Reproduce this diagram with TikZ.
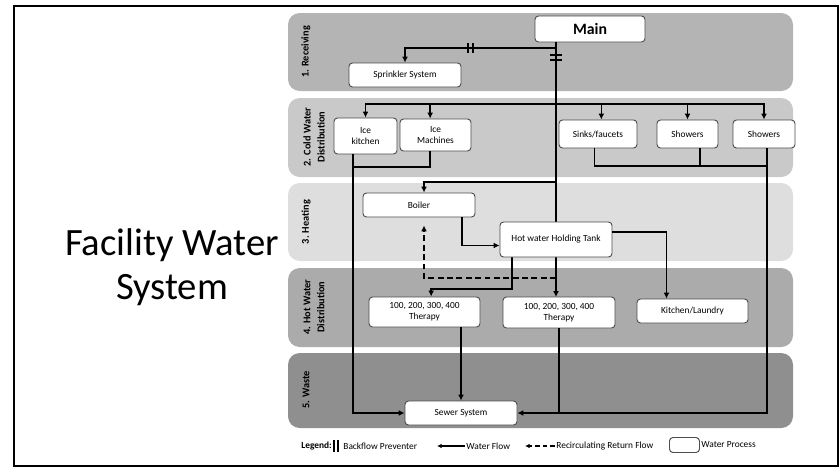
\documentclass[tikz,border=0pt]{standalone}
\usepackage{fontspec}
\setmainfont{Carlito}
\usetikzlibrary{arrows.meta, positioning, calc}

\definecolor{recvgray}{RGB}{180,180,180}
\definecolor{coldgray}{RGB}{201,201,201}
\definecolor{heatgray}{RGB}{222,222,222}
\definecolor{hotgray}{RGB}{171,171,171}
\definecolor{wastegray}{RGB}{143,143,143}

\begin{document}
\begin{tikzpicture}[
    x=0.03cm, y=-0.03cm,
    bandlabel/.style={rotate=90, font=\bfseries\fontsize{8.8}{12}\selectfont, align=center},
    proc/.style={rectangle, draw=black!70, rounded corners=3pt, fill=white,
      line width=0.8pt, align=center, font=\fontsize{8}{9.5}\selectfont, inner sep=1pt},
    pipe/.style={line width=1.4pt},
    flow/.style={line width=1.4pt, -{Latex[length=5pt,width=5pt]}},
    ret/.style={line width=1.4pt, dash pattern=on 5pt off 3pt, -{Latex[length=5pt,width=5pt]}},
    legtext/.style={font=\fontsize{8}{9.5}\selectfont, anchor=west, inner sep=1pt}
  ]
    \useasboundingbox (0,0) rectangle (839,468);
    \draw[line width=1.5pt] (14,6) rectangle (838,466);

    \fill[recvgray, rounded corners=10pt] (288,13) rectangle (793,91);
    \fill[coldgray, rounded corners=10pt] (288,98) rectangle (793,177);
    \fill[heatgray, rounded corners=10pt] (288,183) rectangle (793,261);
    \fill[hotgray, rounded corners=10pt] (288,268) rectangle (793,347);
    \fill[wastegray, rounded corners=10pt] (288,353) rectangle (793,428);

    \node[bandlabel] (lbRecv) at (306,52) {1. Receiving};
    \node[bandlabel] (lbCold) at (314,137) {2. Cold Water\\Distribution};
    \node[bandlabel] (lbHeat) at (306,222) {3. Heating};
    \node[bandlabel] (lbHot) at (314,307) {4. Hot Water\\Distribution};
    \node[bandlabel] (lbWaste) at (306,390) {5. Waste};

    \node[font=\fontsize{33}{38}\selectfont, align=center] (title) at (172,267) {Facility Water\\System};

    \coordinate (trunk) at (556,0);
    \coordinate (sprJ) at (556,48);
    \coordinate (coldJ) at (556,104);
    \coordinate (heatJ) at (556,182);
    \coordinate (retJ) at (556,278);
    \coordinate (coldOut) at (353,167);
    \coordinate (sinkOut) at (767,166);
    \coordinate (t1J) at (512,289);

    \node[proc, font=\bfseries\fontsize{13.5}{16}\selectfont, minimum width=3.3cm, minimum height=0.78cm] (main) at (590,29) {Main};
    \node[proc, minimum width=3.36cm, minimum height=0.72cm] (spr) at (405,75) {Sprinkler System};

    \draw[flow] (main.south -| trunk) -- (trunk |- 0,297);
    \draw[flow] (sprJ) -| (spr.north);
    \draw[line width=1.1pt] (468,43) -- (468,53) (473,43) -- (473,53);
    \draw[line width=1.1pt] (550,55) -- (562,55) (550,60) -- (562,60);

    \node[proc, minimum width=1.89cm, minimum height=1.08cm] (iceK) at (365.5,136) {Ice\\kitchen};
    \node[proc, minimum width=2.13cm, minimum height=0.96cm] (iceM) at (435.5,135) {Ice\\Machines};
    \node[proc, minimum width=2.34cm, minimum height=0.84cm] (sinks) at (598,134) {Sinks/faucets};
    \node[proc, minimum width=1.83cm, minimum height=0.84cm] (show1) at (687.5,134) {Showers};
    \node[proc, minimum width=1.86cm, minimum height=0.84cm] (show2) at (764,134) {Showers};

    \draw[flow] (coldJ) -| (iceK.north);
    \draw[flow] (coldJ) -| ([xshift=-0.16cm]iceM.north);
    \draw[flow] (coldJ) -| ([xshift=0.1cm]sinks.north);
    \draw[flow] (coldJ) -| (show1.north);
    \draw[flow] (coldJ) -| (show2.north);

    \node[proc, minimum width=3.36cm, minimum height=0.72cm] (boiler) at (419,205) {Boiler};
    \node[proc, minimum width=3.33cm, minimum height=0.9cm] (ther1) at (424.5,312) {100, 200, 300, 400\\Therapy};
    \node[proc, minimum width=3.36cm, minimum height=0.93cm] (ther2) at (559,312.5) {100, 200, 300, 400\\Therapy};
    \node[proc, minimum width=3.33cm, minimum height=0.72cm] (kitch) at (692.5,311) {Kitchen/Laundry};
    \node[proc, minimum width=3.36cm, minimum height=0.72cm] (sewer) at (461,413) {Sewer System};

    \draw[flow] (heatJ) -| ([xshift=0.15cm]boiler.north);
    \draw[ret] (retJ) -| ([xshift=0.15cm, yshift=-0.24cm]boiler.south);
    \draw[flow] (t1J |- 0,257) -- (t1J) -| ([xshift=0.2cm]ther1.north);

    \node[proc, minimum width=3.36cm, minimum height=1.05cm] (tank) at (556,239.5) {Hot water Holding Tank};

    \draw[flow] ([xshift=1.29cm]boiler.south) |- ([yshift=-0.18cm]tank.west);
    \draw[flow] ([yshift=0.22cm]tank.east) -| ([xshift=-0.78cm]kitch.north);

    \draw[pipe] ([xshift=-0.16cm]iceM.south) |- (coldOut);
    \draw[flow] (iceK.south -| coldOut) |- (sewer.west);
    \draw[pipe] ([xshift=-0.1cm]sinks.south) |- (sinkOut);
    \draw[pipe] ([xshift=0.37cm]show1.south) -- ([xshift=0.37cm]show1.south |- sinkOut);
    \draw[flow] ([xshift=0.09cm]show2.south) |- (sewer.east);
    \draw[pipe] (ther2.south) -- (ther2.south |- sewer.east);
    \draw[flow] (ther1.south -| sewer.north) -- (sewer.north);

    \node[legtext, font=\bfseries\fontsize{8}{9.5}\selectfont] (lgd) at (300,446) {Legend:};
    \draw[line width=1.1pt] (334,440) -- (334,452) (338,440) -- (338,452);
    \node[legtext] (lgdBack) at (342,446) {Backflow Preventer};
    \node[legtext] (lgdFlow) at (465,446) {Water Flow};
    \draw[line width=1.1pt, -{Latex[length=4pt,width=4pt]}] (lgdFlow.west) -- ++(-28,0);
    \node[legtext] (lgdRet) at (555,446) {Recirculating Return Flow};
    \draw[line width=1.1pt, dash pattern=on 4pt off 2.5pt, -{Latex[length=4pt,width=4pt]}] (lgdRet.west) -- ++(-30,0);
    \node[proc, minimum width=0.9cm, minimum height=0.45cm, anchor=west] (lgdBox) at (669,445) {};
    \node[legtext] (lgdProc) at (lgdBox.east) {Water Process};
  \end{tikzpicture}
\end{document}
